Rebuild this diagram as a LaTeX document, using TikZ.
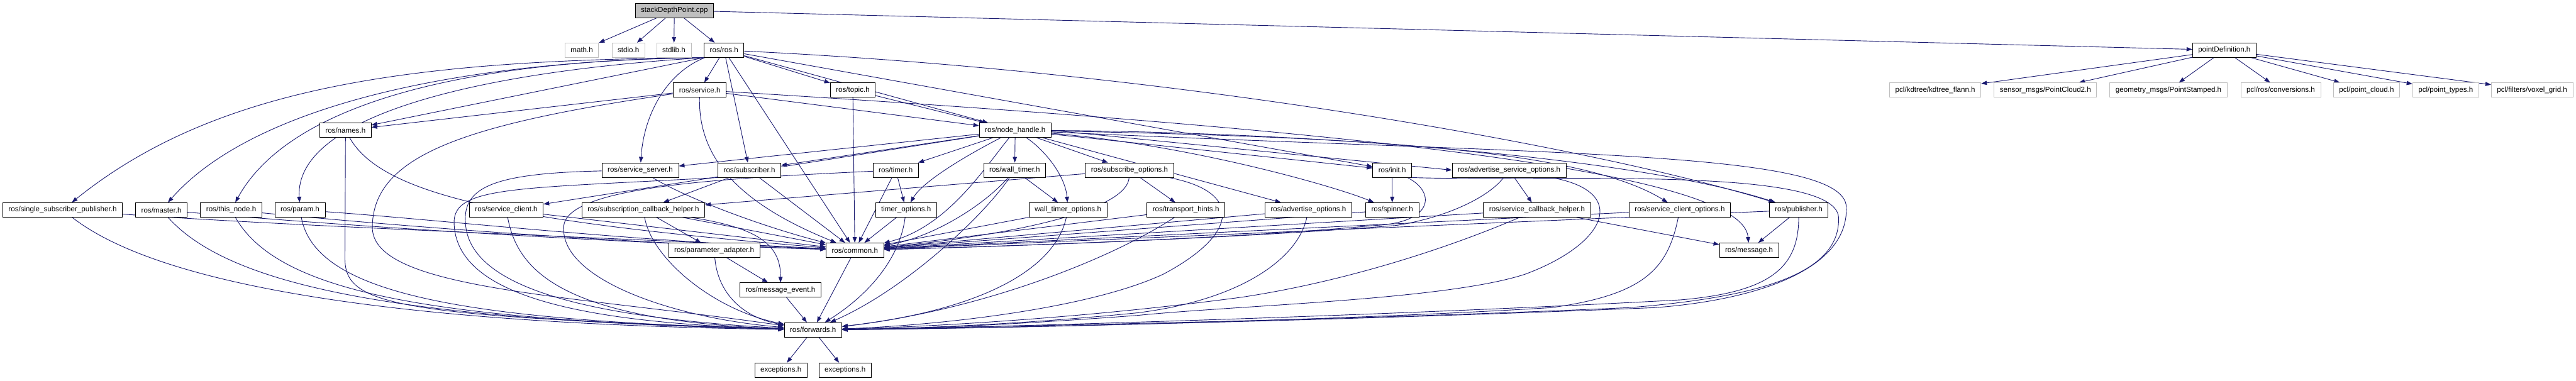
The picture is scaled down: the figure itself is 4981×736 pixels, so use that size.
\documentclass[tikz,border=0pt]{standalone}
\usepackage{fontspec}
\setmainfont{Liberation Sans}
\usetikzlibrary{arrows.meta}
\definecolor{ecol}{RGB}{25,25,112}
\definecolor{gborder}{RGB}{191,191,191}
\pgfdeclarelayer{bgwhite}
\pgfdeclarelayer{edges}
\pgfsetlayers{bgwhite,edges,main}
\begin{document}
\begin{tikzpicture}[x=1pt,y=-1pt,
  box/.style={draw=black, line width=1pt, fill=white, minimum height=28pt, inner xsep=11pt, inner ysep=0pt, font=\fontsize{14.1}{16}\selectfont},
  ext/.style={box, draw=gborder},
  rootbox/.style={box, fill=gborder},
  e/.style={draw=ecol, line width=1.1pt, -{Triangle[length=11pt,width=8pt]}}]
\begin{pgfonlayer}{bgwhite}
\fill[white] (0,0) rectangle (4981,736);
\end{pgfonlayer}
\useasboundingbox (0,0) rectangle (4981,736);
% nodes
\node[rootbox] (root) at (1304,20) {stackDepthPoint.cpp};
\node[ext] (mathh) at (1125,97) {math.h};
\node[ext] (stdioh) at (1215,97) {stdio.h};
\node[ext] (stdlibh) at (1303,97) {stdlib.h};
\node[box] (ros) at (1400,97) {ros/ros.h};
\node[box] (pointdef) at (4301,97) {pointDefinition.h};
\node[box] (service) at (1353,174) {ros/service.h};
\node[box] (topic) at (1649,174) {ros/topic.h};
\node[ext] (kdtree) at (3742,174) {pcl/kdtree/kdtree\_flann.h};
\node[ext] (pc2) at (3955,174) {sensor\_msgs/PointCloud2.h};
\node[ext] (ps) at (4193,174) {geometry\_msgs/PointStamped.h};
\node[ext] (conv) at (4410,174) {pcl/ros/conversions.h};
\node[ext] (pcloud) at (4576,174) {pcl/point\_cloud.h};
\node[ext] (ptypes) at (4729,174) {pcl/point\_types.h};
\node[ext] (voxel) at (4896,174) {pcl/filters/voxel\_grid.h};
\node[box] (names) at (668,252) {ros/names.h};
\node[box] (nh) at (1963,252) {ros/node\_handle.h};
\node[box] (sserver) at (1238,329) {ros/service\_server.h};
\node[box] (sub) at (1449,329) {ros/subscriber.h};
\node[box] (timer) at (1732,329) {ros/timer.h};
\node[box] (wtimer) at (1962,329) {ros/wall\_timer.h};
\node[box] (subopt) at (2184,329) {ros/subscribe\_options.h};
\node[box] (init) at (2692,329) {ros/init.h};
\node[box] (aso) at (2918,329) {ros/advertise\_service\_options.h};
\node[box] (ssp) at (121,406) {ros/single\_subscriber\_publisher.h};
\node[box] (master) at (312,406) {ros/master.h};
\node[box] (thisnode) at (447,406) {ros/this\_node.h};
\node[box] (param) at (580,406) {ros/param.h};
\node[box] (sclient) at (979,406) {ros/service\_client.h};
\node[box] (sch) at (1244,406) {ros/subscription\_callback\_helper.h};
\node[box] (topt) at (1752,406) {timer\_options.h};
\node[box] (wtopt) at (2065,406) {wall\_timer\_options.h};
\node[box] (th) at (2293,406) {ros/transport\_hints.h};
\node[box] (adv) at (2530,406) {ros/advertise\_options.h};
\node[box] (spinner) at (2692,406) {ros/spinner.h};
\node[box] (scbh) at (2972,406) {ros/service\_callback\_helper.h};
\node[box] (sco) at (3248,406) {ros/service\_client\_options.h};
\node[box] (pub) at (3478,406) {ros/publisher.h};
\node[box] (padapt) at (1381,484) {ros/parameter\_adapter.h};
\node[box] (common) at (1653,484) {ros/common.h};
\node[box] (message) at (3382,484) {ros/message.h};
\node[box] (mevent) at (1509,561) {ros/message\_event.h};
\node[box] (fwd) at (1572,638) {ros/forwards.h};
\node[box] (exc1) at (1510,716) {exceptions.h};
\node[box] (exc2) at (1634,716) {exceptions.h};
\begin{pgfonlayer}{edges}
% root
\draw[e] (root) -- (mathh);
\draw[e] (root) -- (stdioh);
\draw[e] (root) -- (stdlibh);
\draw[e] (root) -- (ros);
\draw[e] (root) -- (pointdef);
\foreach \t in {kdtree,pc2,ps,conv,pcloud,ptypes,voxel} \draw[e] (pointdef) -- (\t);
% ros
\draw[e] (ros.south west) .. controls (800,116) and (420,165) .. (ssp);
\draw[e] (ros.south west) .. controls (850,118) and (480,215) .. (master);
\draw[e] (ros.south west) .. controls (900,116) and (560,200) .. (thisnode);
\draw[e] (ros.south west) .. controls (900,140) and (570,230) .. (param);
\draw[e] (ros.south west) -- (names);
\draw[e] (ros) .. controls (1290,140) and (1245,220) .. (sserver);
\draw[e] (ros) -- (service);
\draw[e] (ros) -- (sub);
\draw[e] (ros) -- (common);
\draw[e] (ros) -- (topic);
\draw[e] (ros) -- (nh);
\draw[e] (ros) -- (init);
\draw[e] (ros) .. controls (2300,140) and (3100,290) .. (pub);
% service
\draw[e] (service) -- (names);
\draw[e] (service) .. controls (900,240) and (720,300) .. (720,440) .. controls (720,560) and (1100,570) .. (fwd);
\draw[e] (service) -- (nh);
\draw[e] (service) .. controls (1350,300) and (1420,390) .. (common);
\draw[e] (service) .. controls (2600,250) and (3370,330) .. (message);
% topic
\draw[e] (topic) -- (nh);
\draw[e] (topic) -- (common);
% names
\draw[e] (names) .. controls (740,380) and (1000,430) .. (common);
\draw[e] (names.south) -- (667,500) .. controls (667,590) and (760,612) .. (fwd);
% left nodes
\draw[e] (ssp) .. controls (280,530) and (650,625) .. (fwd);
\draw[e] (master) .. controls (450,560) and (800,620) .. (fwd);
\draw[e] (thisnode) .. controls (540,570) and (850,620) .. (fwd);
\draw[e] (param) .. controls (610,570) and (900,620) .. (fwd);
\draw[e] (ssp) .. controls (600,440) and (1200,460) .. (common);
\draw[e] (master) .. controls (700,440) and (1200,470) .. (common);
\draw[e] (thisnode) .. controls (800,440) and (1200,470) .. (common);
\draw[e] (param) .. controls (850,425) and (1200,465) .. (common);
% service server / subscriber
\draw[e] (sserver) .. controls (960,335) and (895,360) .. (900,430) .. controls (905,560) and (1150,615) .. (fwd);
\draw[e] (sserver) .. controls (1330,385) and (1480,440) .. (common);
\draw[e] (sub.south west) .. controls (1000,365) and (878,360) .. (878,430) .. controls (880,580) and (1150,625) .. (fwd);
\draw[e] (sub) -- (sch);
\draw[e] (sub) -- (common);
% node handle
\draw[e] (nh) -- (sserver);
\draw[e] (nh) -- (sub);
\draw[e] (nh) -- (sclient);
\draw[e] (nh) -- (timer);
\draw[e] (nh) -- (wtimer);
\draw[e] (nh) -- (subopt);
\draw[e] (nh) .. controls (1870,300) and (1785,350) .. (topt);
\draw[e] (nh) .. controls (1900,330) and (1830,440) .. (common);
\draw[e] (nh) .. controls (2020,290) and (2060,340) .. (wtopt);
\draw[e] (nh) -- (init);
\draw[e] (nh.east) -- (aso.west);
\draw[e] (nh) .. controls (2300,280) and (2580,360) .. (spinner);
\draw[e] (nh) -- (adv);
\draw[e] (nh) .. controls (2650,265) and (3060,290) .. (sco);
\draw[e] (nh) .. controls (2500,255) and (3150,300) .. (pub);
\draw[e] (nh) .. controls (3000,300) and (3565,290) .. (3570,400) .. controls (3575,520) and (3400,580) .. (3200,595) .. controls (2600,620) and (1900,635) .. (fwd);
% timer
\draw[e] (timer) -- (topt);
\draw[e] (timer) -- (common);
\draw[e] (timer) .. controls (1400,345) and (1090,360) .. (1090,440) .. controls (1085,540) and (1300,615) .. (fwd);
% wall timer
\draw[e] (wtimer) -- (wtopt);
\draw[e] (wtimer) .. controls (1900,400) and (1800,460) .. (common);
\draw[e] (wtimer) .. controls (1900,420) and (1750,560) .. (fwd);
% subscribe options
\draw[e] (subopt) -- (sch);
\draw[e] (subopt) .. controls (2180,400) and (2000,450) .. (common);
\draw[e] (subopt) -- (th);
\draw[e] (subopt) .. controls (2400,370) and (2400,450) .. (2250,530) .. controls (2100,600) and (1800,630) .. (fwd);
% option nodes
\draw[e] (topt) -- (common);
\draw[e] (topt) .. controls (1740,500) and (1680,570) .. (fwd);
\draw[e] (wtopt) -- (common);
\draw[e] (wtopt) .. controls (2040,520) and (1900,600) .. (fwd);
\draw[e] (th) -- (common);
\draw[e] (th) .. controls (2150,500) and (1900,600) .. (fwd);
\draw[e] (adv) -- (common);
\draw[e] (adv) .. controls (2510,500) and (2400,580) .. (2200,605) .. controls (2000,625) and (1800,635) .. (fwd);
\draw[e] (spinner) -- (common);
% init
\draw[e] (init) -- (spinner);
\draw[e] (init) .. controls (2775,370) and (2775,430) .. (2660,436) .. controls (2400,460) and (2000,475) .. (common);
\draw[e] (init.south east) .. controls (3000,352) and (3548,320) .. (3555,420) .. controls (3560,530) and (3400,575) .. (3150,595) .. controls (2600,620) and (1900,632) .. (fwd);
% advertise service options
\draw[e] (aso) -- (scbh);
\draw[e] (aso) .. controls (2880,380) and (2800,420) .. (2700,436) .. controls (2400,460) and (2000,475) .. (common);
\draw[e] (aso) .. controls (3150,370) and (3110,470) .. (2950,530) .. controls (2800,580) and (2400,590) .. (2200,610) .. controls (2000,625) and (1800,636) .. (fwd);
% service callback helper
\draw[e] (scbh) -- (common);
\draw[e] (scbh) .. controls (2800,480) and (2600,545) .. (2400,575) .. controls (2100,615) and (1800,632) .. (fwd);
\draw[e] (scbh) -- (message);
% service client options
\draw[e] (sco) -- (common);
\draw[e] (sco) .. controls (3225,520) and (3180,570) .. (3000,595) .. controls (2600,620) and (1900,636) .. (fwd);
% publisher
\draw[e] (pub) -- (common);
\draw[e] (pub) -- (message);
\draw[e] (pub) .. controls (3478,520) and (3420,565) .. (3250,580) .. controls (2700,610) and (1900,634) .. (fwd);
% service client
\draw[e] (sclient) -- (common);
\draw[e] (sclient) .. controls (1000,520) and (1080,620) .. (fwd);
% subscription callback helper
\draw[e] (sch) -- (padapt);
\draw[e] (sch) .. controls (1460,440) and (1510,470) .. (mevent);
\draw[e] (sch) -- (common);
\draw[e] (sch) .. controls (1260,500) and (1380,600) .. (fwd);
% parameter adapter
\draw[e] (padapt) -- (mevent);
\draw[e] (padapt) .. controls (1388,570) and (1440,615) .. (fwd);
% bottom
\draw[e] (mevent) -- (fwd);
\draw[e] (common) -- (fwd);
\draw[e] (fwd) -- (exc1);
\draw[e] (fwd) -- (exc2);
\end{pgfonlayer}
\end{tikzpicture}
\end{document}
